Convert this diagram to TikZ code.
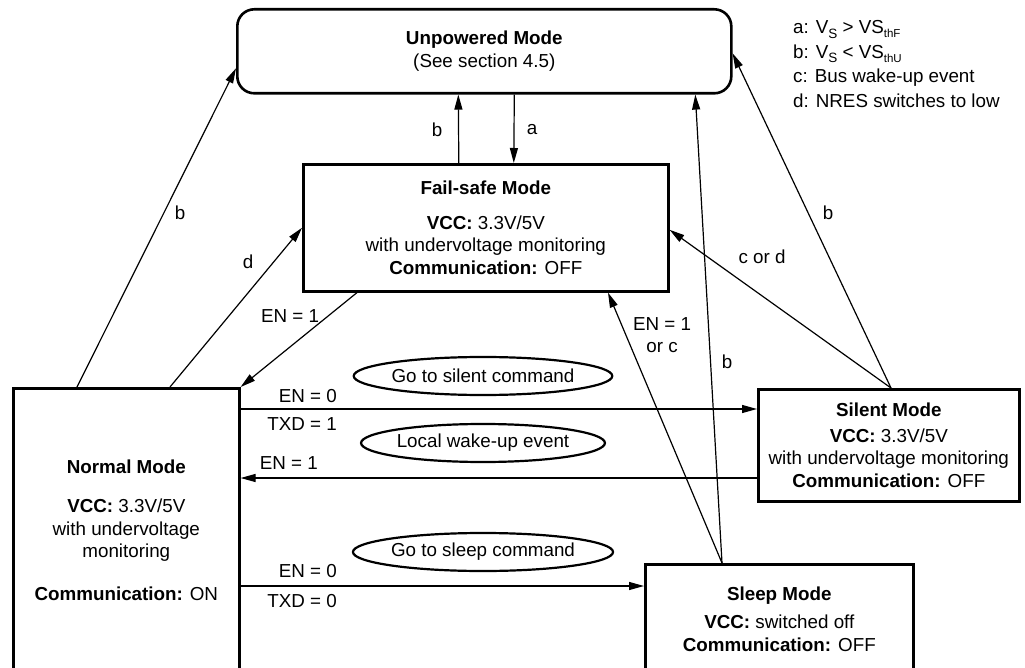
\documentclass[tikz,border=0pt]{standalone}
\usepackage{fontspec}
\setmainfont{Liberation Sans}
\usetikzlibrary{arrows.meta,shapes.geometric,calc}
\newcommand\subS[1]{\raisebox{-0.45ex}{\fontsize{13.5}{13.5}\selectfont #1}}
\newcommand\subth[1]{\raisebox{-0.4ex}{\fontsize{11.5}{11.5}\selectfont #1}}
\begin{document}
\begin{tikzpicture}[x=1pt,y=-1pt,
  font=\fontsize{18.8}{22.5}\selectfont,
  modebox/.style={draw, rectangle, line width=2.6pt, inner sep=0pt, align=center, anchor=north west},
  conn/.style={line width=1.2pt, -{Triangle[length=15pt,width=8pt]}},
  lab/.style={inner sep=0pt, align=center},
  oval/.style={draw, ellipse, line width=2.2pt, minimum width=241pt, minimum height=38pt, inner sep=0pt}]
\useasboundingbox (0,0) rectangle (1025,668);

% mode boxes
\node[modebox, rounded corners=17pt, minimum width=494pt, minimum height=84pt] (unp) at (236,8)
  {\textbf{Unpowered Mode}\\(See section 4.5)};
\node[modebox, minimum width=365pt, minimum height=127pt] (fail) at (302,163)
  {\textbf{Fail-safe Mode}\\[12pt]\textbf{VCC:} 3.3V/5V\\with undervoltage monitoring\\\textbf{Communication:} OFF};
\node[modebox, minimum width=226pt, minimum height=283pt] (normal) at (12,387)
  {\textbf{Normal Mode}\\[17pt]\textbf{VCC:} 3.3V/5V\\with undervoltage\\monitoring\\[20pt]\textbf{Communication:} ON};
\node[modebox, minimum width=261pt, minimum height=112pt] (silent) at (757,388)
  {\textbf{Silent Mode}\\[3pt]\textbf{VCC:} 3.3V/5V\\with undervoltage monitoring\\\textbf{Communication:} OFF};
\node[modebox, minimum width=268pt, minimum height=109pt] (sleep) at (644,563)
  {\textbf{Sleep Mode}\\[6pt]\textbf{VCC:} switched off\\\textbf{Communication:} OFF};

% legend
\node[lab, anchor=base west] (lega) at (793,34) {a: V\subS{S} > VS\subth{thF}};
\node[lab, anchor=base west] (legb) at (793,58.5) {b: V\subS{S} < VS\subth{thU}};
\node[lab, anchor=base west] (legc) at (793,83) {c: Bus wake-up event};
\node[lab, anchor=base west] (legd) at (793,107.5) {d: NRES switches to low};

% ellipses
\node[oval] (e1) at (483,376) {Go to silent command};
\node[oval] (e2) at (483,443) {Local wake-up event};
\node[oval] (e3) at (483,552) {Go to sleep command};

% connectors
\draw[conn] ([xshift=65pt]normal.north west) -- ([yshift=-17pt]unp.west);
\draw[conn] ([xshift=158pt]normal.north west) -- (fail.west);
\draw[conn] ([xshift=55pt]fail.south west) -- (normal.north east);
\draw[conn] ([xshift=-27pt]fail.north) -- ([xshift=-26pt]unp.south);
\draw[conn] ([xshift=30pt]unp.south) -- ([xshift=28pt]fail.north);
\draw[conn] ([xshift=78pt]sleep.north west) -- ([xshift=211pt]unp.south);
\draw[conn] ([xshift=78pt]sleep.north west) -- ([xshift=306pt]fail.south west);
\draw[conn] ([xshift=134pt]silent.north west) -- ([yshift=-2pt]fail.east);
\draw[conn] ([xshift=134pt]silent.north west) -- ([yshift=-2pt]unp.east);
\draw[conn] ($(normal.north east)+(0,22)$) -- ($(silent.west |- normal.north east)+(0,22)$);
\draw[conn] ($(silent.west |- normal.north east)+(0,91)$) -- ($(normal.north east)+(0,91)$);
\draw[conn] ($(normal.north east)+(0,199)$) -- ($(sleep.west |- normal.north east)+(0,199)$);

% connector labels
\node[lab] (lb1) at (180,213) {b};
\node[lab] (ld) at (248,262) {d};
\node[lab] (len1a) at (290,316) {EN = 1};
\node[lab] (lb2) at (437,130) {b};
\node[lab] (la) at (532,130) {a};
\node[lab] (lcd) at (762,257) {c or d};
\node[lab] (lb3) at (828,213) {b};
\node[lab] (len1c) at (662,335) {EN = 1\\or c};
\node[lab] (lb4) at (727,362) {b};
\node[lab, anchor=east] (len0a) at (337,396) {EN = 0};
\node[lab, anchor=east] (ltxd1) at (337,424) {TXD = 1};
\node[lab, anchor=east] (len1b) at (318,463) {EN = 1};
\node[lab, anchor=east] (len0b) at (337,571) {EN = 0};
\node[lab, anchor=east] (ltxd0) at (337,601) {TXD = 0};
\end{tikzpicture}
\end{document}
